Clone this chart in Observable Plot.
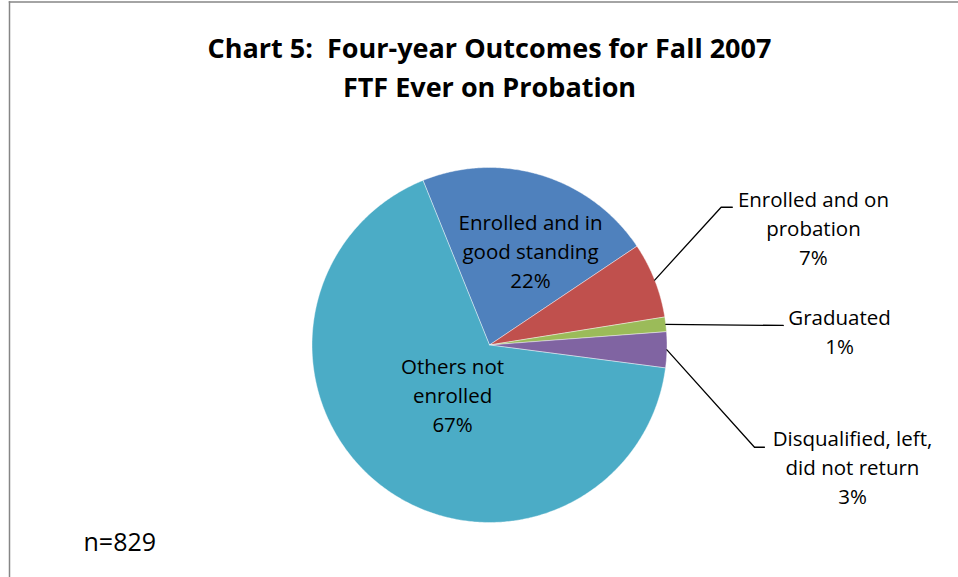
<!DOCTYPE html>
<html>
<head>
<meta charset="utf-8">
<script src="https://cdn.jsdelivr.net/npm/d3@7"></script>
<script src="https://cdn.jsdelivr.net/npm/@observablehq/plot@0.6"></script>
<style>
  html, body { margin: 0; padding: 0; background: #ffffff; }
  #chart svg { display: block; }
</style>
</head>
<body>
<div id="chart"></div>
<script>
// ---------- DATA ----------
const categories = [
  "Enrolled and in good standing",
  "Enrolled and on probation",
  "Graduated",
  "Disqualified, left, did not return",
  "Others not enrolled"
];
const counts = [180, 57, 11, 27, 554];            // n = 829
const percentLabels = ["22%", "7%", "1%", "3%", "67%"];
const labelText = [
  "Enrolled and in\ngood standing",
  "Enrolled and on\nprobation",
  "Graduated",
  "Disqualified, left,\ndid not return",
  "Others not\nenrolled"
];
const sliceColors = ["#4F81BD", "#C0504D", "#9BBB59", "#8064A2", "#4BACC6"];
const titleLines = ["Chart 5:  Four-year Outcomes for Fall 2007", "FTF Ever on Probation"];
const noteText = "n=829";

// ---------- LAYOUT (not data) ----------
const W = 958, H = 577;
const cx = 489, cy = 344.5, R = 177.5;
const startDeg = -22;                 // first slice begins left of 12 o'clock
const FONT = "'Open Sans', 'Noto Sans', sans-serif";
// label anchors in pie-radius units (x right, y up), leader elbows/ends
const labelLayout = [
  {inside: true,  tx: 0.231, ty: 0.535},
  {inside: false, tx: 1.825, ty: 0.665, elbow: [1.305, 0.776], end: [1.368, 0.776]},
  {inside: false, tx: 1.972, ty: 0.085, elbow: null, end: [1.655, 0.110]},
  {inside: false, tx: 2.045, ty: -0.680, elbow: [1.493, -0.576], end: [1.549, -0.576]},
  {inside: true,  tx: -0.208, ty: -0.272}
];

// ---------- BUILD ----------
const start = startDeg * Math.PI / 180;
const arcs = d3.pie().sort(null).value(d => d)
  .startAngle(start).endAngle(start + 2 * Math.PI)(counts);

const slicePts = [];
arcs.forEach((a, i) => {
  const cat = categories[i];
  slicePts.push({cat, x: 0, y: 0});
  const n = Math.max(2, Math.ceil((a.endAngle - a.startAngle) / (Math.PI / 360)));
  for (let k = 0; k <= n; k++) {
    const t = a.startAngle + (a.endAngle - a.startAngle) * k / n;
    slicePts.push({cat, x: Math.sin(t), y: Math.cos(t)});
  }
  slicePts.push({cat, x: 0, y: 0});
});

const labels = arcs.map((a, i) => ({
  cat: categories[i],
  text: labelText[i] + "\n" + percentLabels[i],
  x: labelLayout[i].tx,
  y: labelLayout[i].ty
}));

const leaderPts = [];
arcs.forEach((a, i) => {
  const L = labelLayout[i];
  if (L.inside) return;
  const mid = (a.startAngle + a.endAngle) / 2;
  const cat = categories[i];
  leaderPts.push({cat, x: Math.sin(mid), y: Math.cos(mid)});
  if (L.elbow) leaderPts.push({cat, x: L.elbow[0], y: L.elbow[1]});
  leaderPts.push({cat, x: L.end[0], y: L.end[1]});
});

const chart = Plot.plot({
  width: W,
  height: H,
  margin: 0,
  style: {fontFamily: FONT, background: "#ffffff", overflow: "hidden"},
  x: {domain: [-1, 1], range: [cx - R, cx + R], axis: null},
  y: {domain: [-1, 1], range: [cy + R, cy - R], axis: null},
  color: {domain: categories, range: sliceColors, legend: false},
  marks: [
    Plot.frame({anchor: "left", insetLeft: 9, insetTop: 1.5, stroke: "#868686", strokeWidth: 1.5}),
    Plot.frame({anchor: "top", insetLeft: 9, insetTop: 1.5, stroke: "#868686", strokeWidth: 1.5}),
    Plot.line(slicePts, {x: "x", y: "y", z: "cat", fill: "cat", stroke: "#ffffff", strokeWidth: 0.6, strokeOpacity: 0.7}),
    Plot.line(leaderPts, {x: "x", y: "y", z: "cat", stroke: "#000000", strokeWidth: 1.3}),
    Plot.text(labels, {x: "x", y: "y", text: "text", fill: "#000000", fontSize: 20.5, lineHeight: 1.415, textAnchor: "middle"}),
    Plot.text([titleLines.join("\n")], {text: d => d, x: () => 0, frameAnchor: "top", dy: 30, lineAnchor: "top",
      fontSize: 27, fontWeight: "bold", lineHeight: 1.44, fill: "#000000"}),
    Plot.text([noteText], {text: d => d, frameAnchor: "bottom-left", dx: 83, dy: -27, textAnchor: "start",
      fontSize: 25, fill: "#000000"})
  ]
});

document.getElementById("chart").appendChild(chart);
</script>
</body>
</html>
